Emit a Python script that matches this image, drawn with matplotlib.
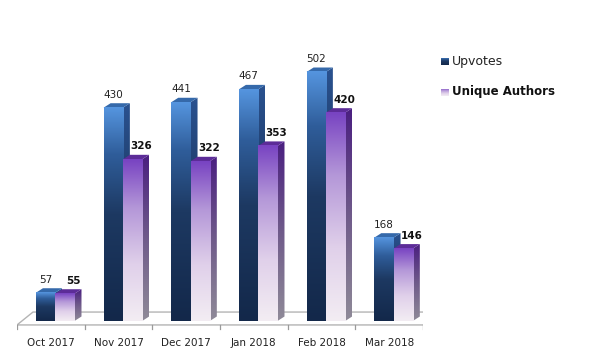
"""
Upvotes vs unique authors per month, drawn as Excel-style 3D bars.
"""
import matplotlib
matplotlib.use("Agg")
import matplotlib.pyplot as plt
import numpy as np
from matplotlib.colors import LinearSegmentedColormap
from matplotlib.patches import Polygon

MONTHS = ["Oct 2017", "Nov 2017", "Dec 2017", "Jan 2018", "Feb 2018", "Mar 2018"]
UPVOTES = [57, 430, 441, 467, 502, 168]
AUTHORS = [55, 326, 322, 353, 420, 146]

W, H = 590, 359
BAR_W = 0.285
DX, DY = 0.103, 9.0          # bar depth offset (data units)
FDX, FDY = 0.236, 26.0       # floor depth offset
FLOOR_Y = -8

up_front = LinearSegmentedColormap.from_list(
    "up", [(0, "#13284a"), (0.5, "#1d3962"), (0.78, "#2f5d9a"), (1, "#5595df")])
up_side = LinearSegmentedColormap.from_list("ups", ["#122440", "#1c3760", "#2a5290"])
au_front = LinearSegmentedColormap.from_list(
    "au", [(0, "#f3edf3"), (0.35, "#e0d0ea"), (0.7, "#b497d8"), (1, "#7843c2")])
au_side = LinearSegmentedColormap.from_list("aus", ["#8f8a98", "#6f5a8a", "#4a1f80"])

grad = np.linspace(0, 1, 256).reshape(-1, 1)


def bar3d(ax, x0, v, front, side, top, z):
    x1 = x0 + BAR_W
    # side face
    side_poly = Polygon([(x1, 0), (x1 + DX, DY), (x1 + DX, v + DY), (x1, v)],
                        closed=True, facecolor="none", edgecolor="none", zorder=z)
    ax.add_patch(side_poly)
    im = ax.imshow(grad, cmap=side, origin="lower", aspect="auto",
                   extent=(x1, x1 + DX, 0, v + DY), zorder=z, interpolation="bilinear")
    im.set_clip_path(side_poly)
    # top face
    ax.add_patch(Polygon([(x0, v), (x1, v), (x1 + DX, v + DY), (x0 + DX, v + DY)],
                         closed=True, facecolor=top, edgecolor="none", zorder=z))
    # front face
    ax.imshow(grad, cmap=front, origin="lower", aspect="auto",
              extent=(x0, x1, 0, v), zorder=z + 0.5, interpolation="bilinear")


def legend_swatch(fig, x, y, cmap):
    sw = fig.add_axes([x / W, 1 - (y + 8) / H, 8 / W, 8 / H])
    sw.imshow(grad, cmap=cmap, origin="lower", aspect="auto", interpolation="bilinear")
    sw.axis("off")


def main():
    fig = plt.figure(figsize=(W / 100, H / 100), dpi=100)
    ax = fig.add_axes([17 / W, 3.3 / H, 406 / W, 337.3 / H])
    ax.axis("off")

    # floor
    n = len(MONTHS)
    floor = [(-0.5, FLOOR_Y), (n - 0.5, FLOOR_Y), (n - 0.5 + FDX, FLOOR_Y + FDY),
             (-0.5 + FDX, FLOOR_Y + FDY)]
    ax.add_patch(Polygon(floor, closed=True, facecolor="white",
                         edgecolor="#b4b4b4", linewidth=1.0, zorder=1))
    for k in range(n + 1):
        ax.plot([k - 0.5, k - 0.5], [FLOOR_Y, FLOOR_Y - 8], color="#9a9a9a", lw=0.9, zorder=1)

    z = 2
    for i, (m, u, a) in enumerate(zip(MONTHS, UPVOTES, AUTHORS)):
        xu = i - 0.22
        xa = xu + BAR_W
        bar3d(ax, xu, u, up_front, up_side, "#3569aa", z)
        z += 1
        bar3d(ax, xa, a, au_front, au_side, "#5c2c98", z)
        z += 1
        ax.text(xu + BAR_W / 2, u + 26, str(u), ha="center", va="center",
                fontsize=7.5, color="#222222")
        ax.text(xa + BAR_W / 2 + 0.13, a + 26, str(a), ha="center", va="center",
                fontsize=7.5, fontweight="bold", color="#111111")
        ax.text(i, -44, m, ha="center", va="center", fontsize=7.5, color="#222222")

    ax.set_xlim(-0.5, n - 0.5)
    ax.set_ylim(-70, 610)

    # legend, drawn by hand with gradient swatches
    legend_swatch(fig, 441, 57.5, up_front)
    legend_swatch(fig, 441, 88.5, au_front)
    fig.text(452 / W, 1 - 61 / H, "Upvotes", ha="left", va="center",
             fontsize=9, color="#222222")
    fig.text(452 / W, 1 - 92 / H, "Unique Authors", ha="left", va="center",
             fontsize=8.5, fontweight="bold", color="#111111")

    fig.savefig("out.png", dpi=100, facecolor="white")


if __name__ == "__main__":
    main()
